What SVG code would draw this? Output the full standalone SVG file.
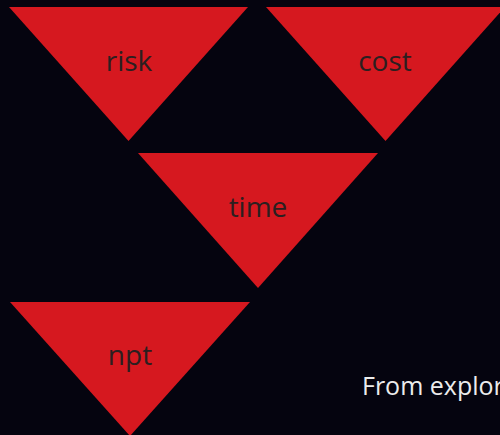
<svg xmlns="http://www.w3.org/2000/svg" width="500" height="435" viewBox="0 0 500 435">
<style>
.tri{fill:#d6181f}
.lbl{font-family:"Open Sans","Liberation Sans",sans-serif;font-size:28px;fill:#2b1f20;text-anchor:middle}
.cap{font-family:"Open Sans","Liberation Sans",sans-serif;font-size:25px;fill:#ececec}
</style>
<rect width="500" height="435" fill="#05040f"/>
<g id="risk"><polygon class="tri" points="9,7 248,7 128.5,141"/><text class="lbl" x="129" y="71">risk</text></g>
<g id="cost"><polygon class="tri" points="266,7 505,7 385.5,141"/><text class="lbl" x="385" y="71">cost</text></g>
<g id="time"><polygon class="tri" points="138,153 378,153 258,288"/><text class="lbl" x="258" y="217">time</text></g>
<g id="npt"><polygon class="tri" points="10,302 250,302 130,436"/><text class="lbl" x="130" y="365">npt</text></g>
<g id="connectors"></g>
<text class="cap" x="362" y="395">From explor</text>
</svg>
